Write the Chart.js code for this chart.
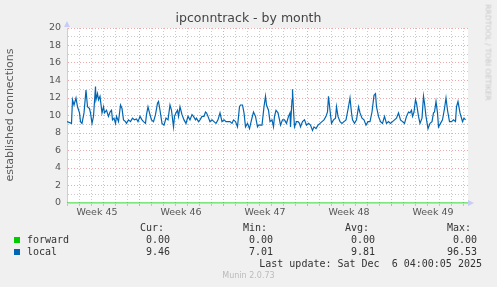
<!DOCTYPE html>
<html>
<head>
<meta charset="utf-8">
<script src="https://cdn.jsdelivr.net/npm/chart.js@4.4.0/dist/chart.umd.min.js"></script>
<style>
  html, body { margin: 0; padding: 0; background: #f0f0f0; }
  #wrap { position: relative; width: 497px; height: 287px; overflow: hidden; font-family: 'DejaVu Sans', sans-serif; }
  #c { position: absolute; left: 0; top: 0; }
  .t { position: absolute; white-space: pre; }
  .mono { font: 10px 'DejaVu Sans Mono', monospace; color: #333; line-height: 12px; }
  .sq { position: absolute; width: 6px; height: 6px; }
</style>
</head>
<body>
<div id="wrap">
  <canvas id="c" width="497" height="287"></canvas>
  <div class="t" style="left:0;width:497px;top:10px;text-align:center;font-size:12.5px;color:#444;line-height:15px;">ipconntrack - by month</div>
  <div class="t" style="left:-60px;top:108px;width:140px;height:14px;text-align:center;font-size:11px;color:#5a5a5a;line-height:14px;transform:rotate(-90deg);">established connections</div>
  <div class="t" style="left:438px;top:48px;width:100px;height:9px;text-align:center;font-size:7.5px;color:#c8c8c8;line-height:9px;transform:rotate(90deg);">RRDTOOL / TOBI OETIKER</div>
  <div id="legend"></div>
  <div class="t" style="left:0;width:497px;top:270px;text-align:center;font-size:8px;color:#bbb;line-height:11px;">Munin 2.0.73</div>
</div>
<script>
// ==================== DATA ====================
// time axis in hours since Monday of week 45
const weekLabels = ['Week 45', 'Week 46', 'Week 47', 'Week 48', 'Week 49'];
const weekCenterHours = [84, 252, 420, 588, 756];
const yTicks = [0, 2, 4, 6, 8, 10, 12, 14, 16, 18, 20];

const localHours = [
  24,33,35,38,42,45,49,51,54,58,62,65,69,71,74,77,81,82,85,87,90,94,97,99,103,107,110,113,115,118,
  121,123,127,131,134,137,141,143,147,151,155,159,163,166,170,174,177,181,183,186,189,193,197,201,205,207,210,214,218,222,
  226,230,233,237,239,242,245,247,250,254,258,262,266,270,274,277,281,283,287,290,294,298,301,303,306,310,314,318,322,326,
  330,334,338,342,346,350,354,357,361,365,369,371,375,378,381,385,389,393,397,401,405,407,410,414,418,421,423,427,
  430,434,437,439,442,446,449,451,455,459,463,467,470,471,474,475,477,479,483,486,489,491,495,499,503,507,511,515,518,522,
  526,530,534,538,542,545,547,550,553,557,561,563,566,570,574,578,582,587,590,593,595,599,603,607,610,614,618,622,626,630,
  634,638,641,643,647,651,655,659,663,667,671,675,679,683,687,691,695,699,703,707,710,713,715,718,721,723,727,730,734,737,
  739,742,746,750,754,757,759,762,765,767,771,775,779,782,785,789,793,797,801,803,806,810,813,815,818,821
];
const localValues = [
  9.3,9.1,11.8,11.2,12.0,11.0,10.3,9.3,9.1,10.3,12.9,11.0,10.8,10.3,9.1,9.9,13.3,11.8,12.5,11.8,12.2,10.3,11.0,10.3,10.6,9.9,10.4,10.6,9.5,9.7,
  9.1,9.9,9.3,11.2,10.8,9.5,9.3,9.1,9.5,9.3,9.7,9.5,9.6,9.3,9.9,9.5,9.3,9.1,10.1,11.0,10.3,9.5,9.3,10.1,11.4,11.6,10.6,9.1,8.9,9.7,
  9.5,11.2,10.6,8.7,9.9,10.3,10.6,9.9,11.0,10.1,9.5,9.1,9.9,9.5,10.1,9.9,9.5,9.7,9.3,9.5,9.9,9.9,10.4,10.3,9.9,9.3,9.5,9.3,9.1,9.5,
  10.3,9.3,9.5,9.3,9.3,9.3,9.1,9.5,9.3,8.7,11.0,11.2,11.2,10.3,8.7,9.1,8.5,9.5,10.4,9.9,8.7,8.9,8.9,8.9,11.0,12.2,11.2,10.6,
  9.3,9.5,8.7,9.9,10.6,10.3,9.5,8.9,9.5,9.5,9.1,9.9,10.3,8.7,11.8,13.0,10.6,8.7,9.3,9.3,9.1,8.7,9.3,9.5,8.9,9.1,8.9,8.3,8.7,8.5,
  8.9,9.1,9.3,9.5,9.9,10.4,12.2,10.6,9.1,9.5,9.7,11.0,9.9,9.3,9.1,9.3,9.5,11.0,12.0,10.3,9.5,9.1,9.5,11.0,10.3,9.7,9.5,8.9,9.3,9.3,
  10.4,12.3,12.5,11.0,9.9,9.3,9.1,9.9,9.1,9.3,9.1,9.3,9.5,9.7,10.3,9.5,9.3,9.1,9.9,10.4,10.3,10.6,9.9,10.4,11.8,11.4,9.9,9.1,9.7,12.2,
  11.4,9.9,8.5,9.1,9.3,10.3,10.4,11.6,10.3,8.7,9.1,9.5,10.8,12.0,10.6,9.3,9.3,9.5,9.3,11.0,11.6,10.3,9.7,9.3,9.7,9.5
];
const forwardHours = [24, 826];
const forwardValues = [0, 0];

// legend table
const legendHeaders = ['Cur:', 'Min:', 'Avg:', 'Max:'];
const legendRows = [
  { name: 'forward', color: '#00cc00', vals: ['0.00', '0.00', '0.00', '0.00'] },
  { name: 'local', color: '#0066b3', vals: ['9.46', '7.01', '9.81', '96.53'] }
];
const lastUpdate = 'Last update: Sat Dec  6 04:00:05 2025';

// ==================== LEGEND ====================
window.buildLegend = function() {
    const colRight = [170, 273, 375, 477];
    const hdrRight = [164, 267, 369, 471];
    let html = '';
    legendHeaders.forEach((h, i) => {
        html += `<div class="t mono" style="right:${497 - hdrRight[i]}px;top:222px;">${h}</div>`;
    });
    legendRows.forEach((r, k) => {
        const cy = 240 + k * 12;
        html += `<div class="sq" style="left:14px;top:${cy - 3}px;background:${r.color}"></div>`;
        html += `<div class="t mono" style="left:27px;top:${cy - 6}px;">${r.name}</div>`;
        r.vals.forEach((v, i) => {
            html += `<div class="t mono" style="right:${497 - colRight[i]}px;top:${cy - 6}px;">${v}</div>`;
        });
    });
    html += `<div class="t mono" style="right:${497 - 482}px;top:258px;">${lastUpdate}</div>`;
    document.getElementById('legend').innerHTML = html;
};
window.buildLegend();

// ==================== CHART ====================
const RED_GRID = 'rgba(225,110,110,0.6)';
const GREY_GRID = 'rgba(150,150,150,0.5)';
const AXIS_COL = '#c6ccf6';

const plotBg = {
    id: 'plotBg',
    beforeDraw(chart) {
        const a = chart.chartArea, ctx = chart.ctx;
        ctx.save();
        ctx.fillStyle = '#ffffff';
        ctx.fillRect(a.left, a.top, a.right - a.left, a.bottom - a.top);
        ctx.restore();
    },
    afterDraw(chart) {
        const a = chart.chartArea, ctx = chart.ctx;
        ctx.save();
        ctx.fillStyle = AXIS_COL;
        // arrow on the y axis
        ctx.beginPath();
        ctx.moveTo(a.left - 3, a.top - 1);
        ctx.lineTo(a.left + 3, a.top - 1);
        ctx.lineTo(a.left, a.top - 7);
        ctx.closePath();
        ctx.fill();
        // arrow on the x axis
        ctx.beginPath();
        ctx.moveTo(a.right, a.bottom - 3);
        ctx.lineTo(a.right, a.bottom + 3);
        ctx.lineTo(a.right + 6, a.bottom);
        ctx.closePath();
        ctx.fill();
        ctx.restore();
    }
};

const ctx = document.getElementById('c').getContext('2d');
window.monthChart = new Chart(ctx, {
    type: 'line',
    data: {
        datasets: [
            { label: 'forward', data: forwardHours.map((h, i) => ({ x: h, y: forwardValues[i] })), borderColor: '#00cc00', borderWidth: 1, pointRadius: 0, tension: 0 },
            { label: 'local', data: localHours.map((h, i) => ({ x: h, y: localValues[i] })), borderColor: '#0066b3', borderWidth: 1.2, pointRadius: 0, tension: 0 }
        ]
    },
    options: {
        responsive: false,
        animation: false,
        devicePixelRatio: 1,
        layout: { padding: { left: 0, right: 29, top: 28, bottom: 0 } },
        plugins: { legend: { display: false }, tooltip: { enabled: false }, title: { display: false } },
        scales: {
            x: {
                type: 'linear', min: 24, max: 826,
                afterBuildTicks: (axis) => {
                    let t = [];
                    for (let h = 24; h <= 826; h += 24) t.push({ value: h });
                    axis.ticks = t;
                },
                afterFit: (s) => { s.height = 0; },
                ticks: { display: false },
                grid: {
                    color: (c) => (c.tick && c.tick.value % 168 === 0) ? RED_GRID : GREY_GRID,
                    tickColor: (c) => (c.tick && c.tick.value % 168 === 0) ? RED_GRID : GREY_GRID,
                    lineWidth: 1, drawTicks: true, tickLength: 3
                },
                border: { color: AXIS_COL, width: 1, dash: [1, 2] }
            },
            x2: {
                type: 'linear', position: 'bottom', min: 24, max: 826,
                afterBuildTicks: (axis) => { axis.ticks = weekCenterHours.map(v => ({ value: v })); },
                afterFit: (s) => { s.height = 84; },
                ticks: {
                    autoSkip: false, maxRotation: 0, padding: 4, color: '#555',
                    font: { family: 'DejaVu Sans', size: 9.5 },
                    callback: (v, i) => weekLabels[i]
                },
                grid: { display: false, drawTicks: false },
                border: { display: false }
            },
            y: {
                min: 0, max: 20,
                afterBuildTicks: (axis) => {
                    let t = [];
                    for (let v = 0; v <= 20; v++) t.push({ value: v });
                    axis.ticks = t;
                },
                afterFit: (s) => { s.width = 67; },
                ticks: {
                    autoSkip: false, padding: 6, color: '#555',
                    font: { family: 'DejaVu Sans', size: 9.5 },
                    callback: (v) => yTicks.includes(v) ? String(v) : ''
                },
                grid: {
                    color: (c) => (c.tick && c.tick.value % 2 === 0) ? RED_GRID : GREY_GRID,
                    lineWidth: 1, drawTicks: false
                },
                border: { color: AXIS_COL, width: 1, dash: [1, 2] }
            }
        }
    },
    plugins: [plotBg]
});
</script>
</body>
</html>
